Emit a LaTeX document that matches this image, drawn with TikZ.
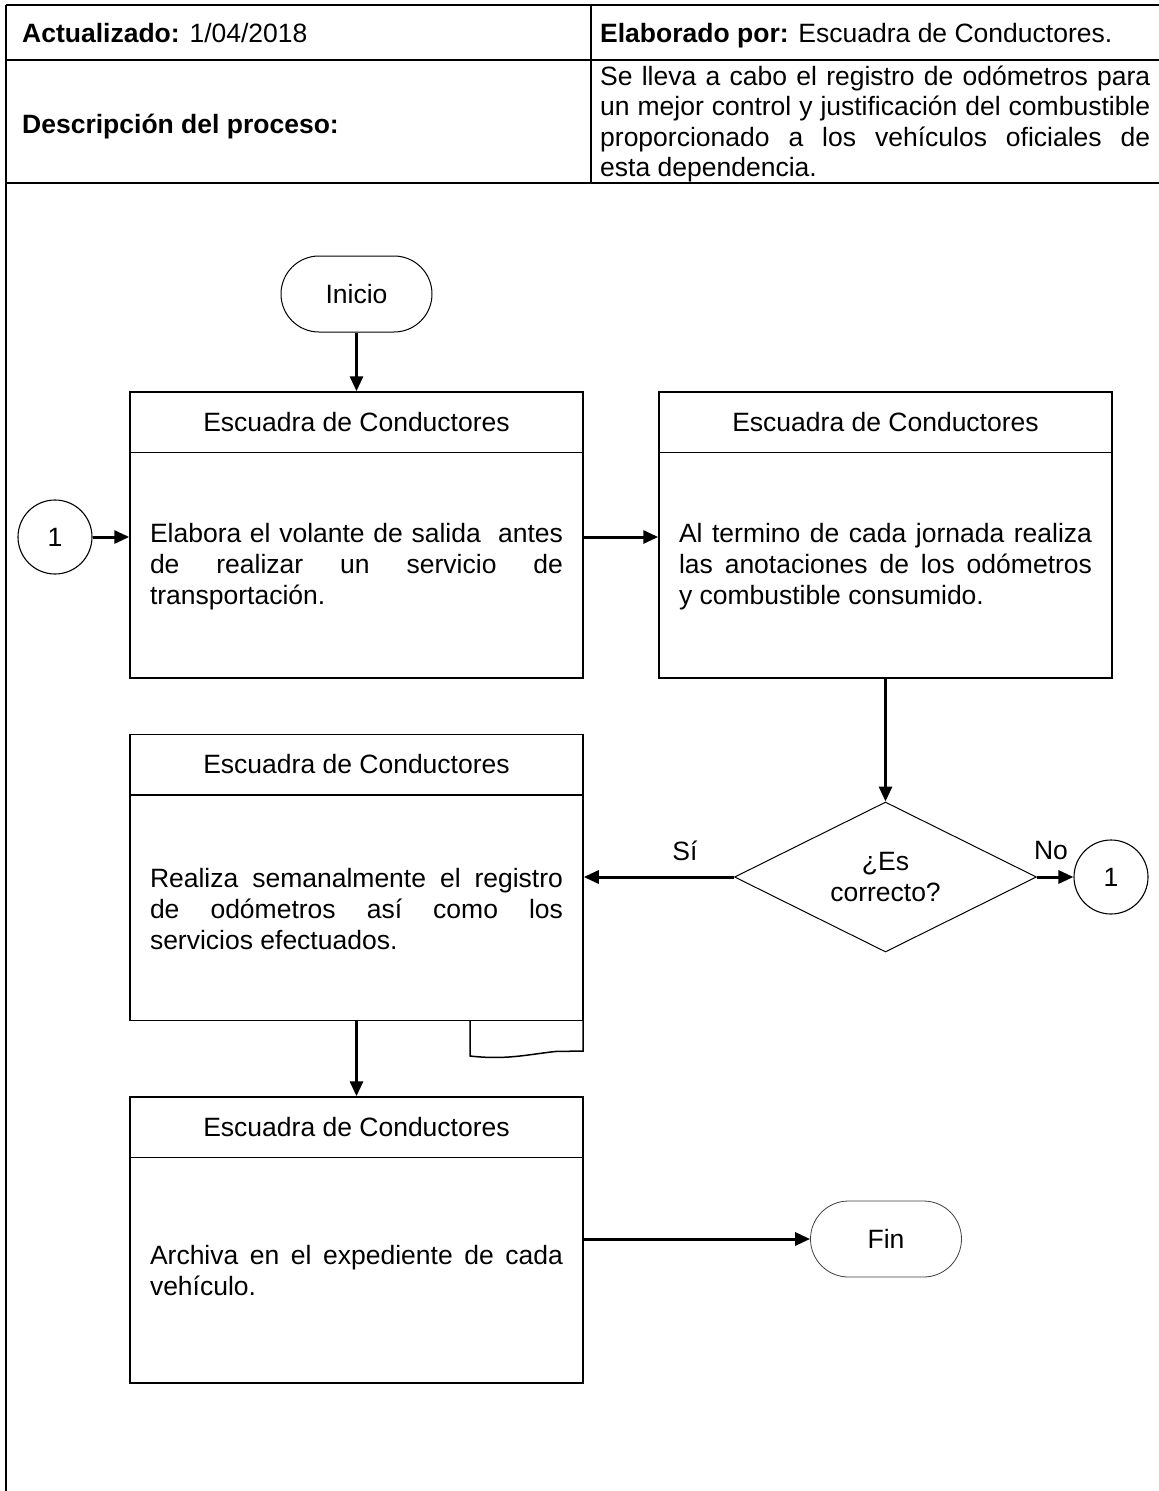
\documentclass[tikz,border=0pt]{standalone}
\usepackage{fontspec}
\setmainfont{Liberation Sans}
\usetikzlibrary{arrows.meta,shapes.geometric,shapes.misc}
\begin{document}
\begin{tikzpicture}[x=1pt,y=-1pt,
  every node/.style={inner sep=0pt, font=\fontsize{26.5pt}{31pt}\selectfont},
  tline/.style={line width=2pt},
  boxst/.style={draw, line width=1.5pt, minimum width=453pt, minimum height=286pt},
  term/.style={draw, rounded rectangle, line width=1pt, minimum width=151pt, minimum height=76pt},
  conn/.style={draw, circle, line width=1.1pt, minimum size=74pt},
  dec/.style={draw, diamond, line width=1pt, aspect=2, minimum width=302pt, minimum height=150pt, align=center},
  arr/.style={line width=3pt, -{Triangle[length=15pt,width=13pt]}},
  body/.style={align=left},
  tbl/.style={anchor=base west, font=\fontsize{26.5pt}{30.5pt}\selectfont}
]
\useasboundingbox (0,0) rectangle (1159,1491);
\fill[white] (0,0) rectangle (1159,1491);

% header table
\draw[tline] (6,5) -- (1159,5);
\draw[tline] (6,60) -- (1159,60);
\draw[tline] (6,183) -- (1159,183);
\draw[tline] (6,5) -- (6,1491);
\draw[tline] (591,5) -- (591,183);
\node[tbl] (act) at (22,42) {\textbf{Actualizado:} 1/04/2018};
\node[tbl] (ela) at (600,42) {\textbf{Elaborado por:} Escuadra de Conductores.};
\node[tbl] (des) at (22,133) {\textbf{Descripción del proceso:}};
\node[tbl, anchor=west, align=left] (desc) at (600,124) {\makebox[550pt][s]{Se lleva a cabo el registro de odómetros para}\\
\makebox[550pt][s]{un mejor control y justificación del combustible}\\
\makebox[550pt][s]{proporcionado a los vehículos oficiales de}\\
esta dependencia.};

% terminals and connectors
\node[term] (ini) at (356.5,294) {Inicio};
\node[conn] (c1) at (55,537) {1};
\node[conn] (c2) at (1111,877) {1};
\node[term, draw=black!75, line width=0.8pt] (fin) at (886,1239) {Fin};

% boxes
\node[boxst] (b1) at (356.5,535) {};
\node[boxst] (b2) at (885.5,535) {};
\node[boxst] (b3) at (356.5,877.5) {};
\node[boxst] (b4) at (356.5,1240) {};
\foreach \b in {b1,b2,b3,b4}{
  \draw[line width=1.5pt] ([yshift=-61pt]\b.north west) -- ([yshift=-61pt]\b.north east);
  \node (h\b) at ([yshift=-30.5pt]\b.north) {Escuadra de Conductores};
}

% document tail under box 3
\draw[line width=1.5pt] (470,1021) -- (470,1056) .. controls (505,1060) and (525,1055) .. (555,1051.5) -- (583,1051) -- (583,1021);

% body texts
\node[body] (t1) at (356.5,567) {\makebox[413pt][s]{Elabora el volante de salida \ antes}\\
\makebox[413pt][s]{de realizar un servicio de}\\
transportación.};
\node[body] (t2) at (885.5,567) {\makebox[413pt][s]{Al termino de cada jornada realiza}\\
\makebox[413pt][s]{las anotaciones de los odómetros}\\
y combustible consumido.};
\node[body] (t3) at (356.5,909) {\makebox[413pt][s]{Realiza semanalmente el registro}\\
\makebox[413pt][s]{de odómetros así como los}\\
servicios efectuados.};
\node[body] (t4) at (356.5,1271) {\makebox[413pt][s]{Archiva en el expediente de cada}\\
vehículo.};

% decision
\node[dec] (dia) at (885.5,877) {¿Es\\correcto?};
\node (si) at (685,851) {Sí};
\node (no) at (1051,851) {No};

% arrows
\draw[arr] (ini.south) -- (b1.north);
\draw[arr] (c1.east) -- (c1.east -| b1.west);
\draw[arr] (c1.east -| b1.east) -- (c1.east -| b2.west);
\draw[arr] (b2.south) -- (dia.north);
\draw[arr] (dia.west) -- (dia.west -| b3.east);
\draw[arr] (dia.east) -- (c2.west);
\draw[arr] (b3.south) -- (b4.north);
\draw[arr] (fin.west -| b4.east) -- (fin.west);
\end{tikzpicture}
\end{document}
